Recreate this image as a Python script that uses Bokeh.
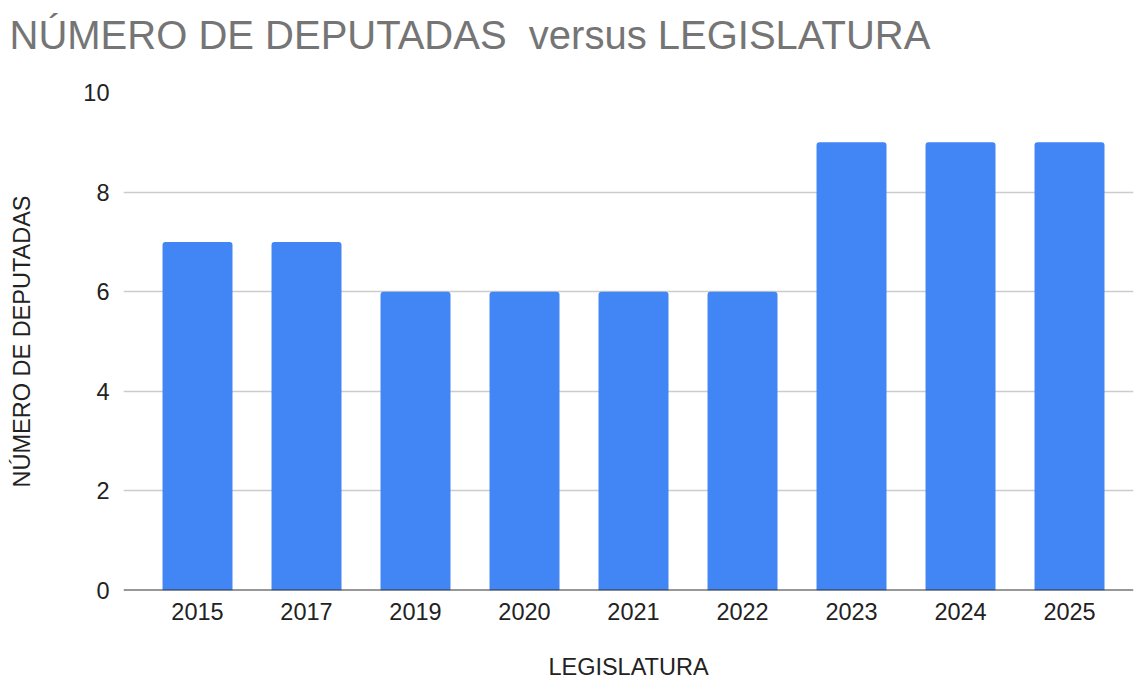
from bokeh.plotting import figure
from bokeh.models import ColumnDataSource, FixedTicker, Span, Range1d, Title
from bokeh.embed import file_html
from bokeh.resources import INLINE

years = ["2015", "2017", "2019", "2020", "2021", "2022", "2023", "2024", "2025"]
deputadas = [7, 7, 6, 6, 6, 6, 9, 9, 9]
y_ticks = [0, 2, 4, 6, 8, 10]
title_text = "NÚMERO DE DEPUTADAS\u00a0 versus LEGISLATURA"

idx = list(range(len(years)))
src = ColumnDataSource(dict(x=idx, top=deputadas, label=years))

FONT = "Liberation Sans"

p = figure(width=1135, height=682, output_backend="svg", toolbar_location=None,
           x_range=Range1d(-0.679, 8.587), y_range=Range1d(0, 10),
           min_border_left=123, min_border_right=2, min_border_top=92,
           min_border_bottom=92)
p.outline_line_color = None
p.background_fill_color = "white"
p.border_fill_color = "white"

p.vbar(x="x", top="top", bottom=0, width=0.642, source=src,
       fill_color="#4285F4", line_color=None, border_radius=[3, 3, 0, 0])

p.add_layout(Span(location=0, dimension="width", line_color="#333333", line_width=2))

# spacer panel between frame and title (blank)
p.add_layout(Title(text="\u00a0", text_font_size="10px", standoff=23), "above")
# main title
p.add_layout(Title(text=title_text, text_font=FONT, text_font_size="40px",
                   text_font_style="normal", text_color="#757575",
                   align="left", offset=-114, standoff=0), "above")

# x axis
p.xaxis.ticker = FixedTicker(ticks=idx)
p.xaxis.major_label_overrides = {i: y for i, y in zip(idx, years)}
p.xaxis.axis_label = "LEGISLATURA"
p.xaxis.axis_line_color = None
p.xaxis.major_tick_line_color = None
p.xaxis.minor_tick_line_color = None
p.xaxis.major_label_standoff = 6
p.xaxis.axis_label_standoff = 31
# y axis
p.yaxis.ticker = FixedTicker(ticks=y_ticks)
p.yaxis.axis_label = "NÚMERO DE DEPUTADAS"
p.yaxis.axis_line_color = None
p.yaxis.major_tick_line_color = None
p.yaxis.minor_tick_line_color = None
p.yaxis.major_label_standoff = 8
p.yaxis.axis_label_standoff = 45

for ax in (p.xaxis[0], p.yaxis[0]):
    ax.major_label_text_font = FONT
    ax.major_label_text_font_size = "23.5px"
    ax.major_label_text_color = "#222222"
    ax.axis_label_text_font = FONT
    ax.axis_label_text_font_size = "23.5px"
    ax.axis_label_text_font_style = "normal"
    ax.axis_label_text_color = "#222222"

p.xgrid.grid_line_color = None
p.ygrid.grid_line_color = "#cccccc"
p.ygrid.grid_line_width = 1.5

open("out.html", "w").write(file_html(p, INLINE))
